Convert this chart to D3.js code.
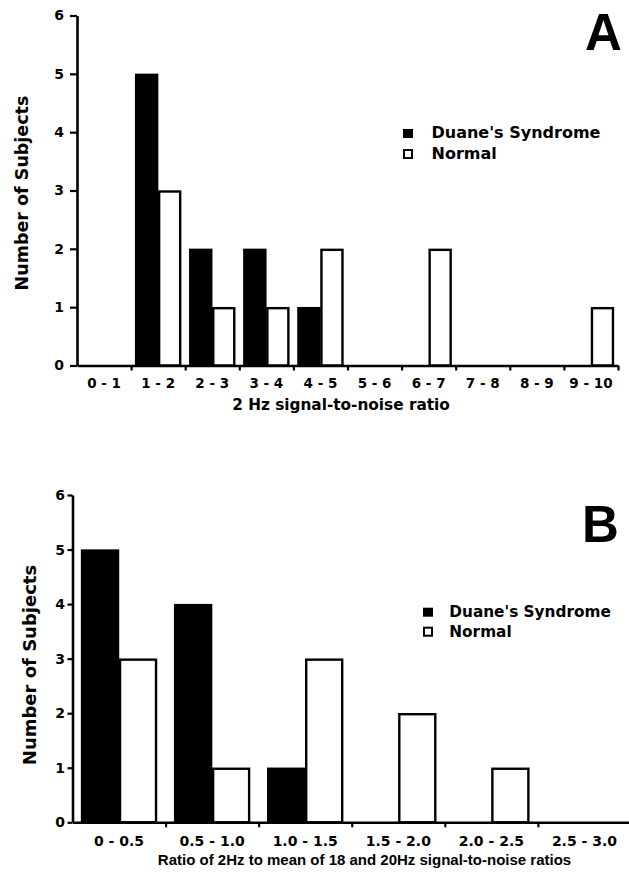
<!DOCTYPE html>
<html><head><meta charset="utf-8">
<script src="https://cdn.jsdelivr.net/npm/d3@7"></script>
<style>body{margin:0;background:#fff;} svg{display:block;}</style>
</head><body>
<svg id="chart" width="629" height="874"></svg>
<script>
// ---- data ----
const categoriesA = ["0 - 1","1 - 2","2 - 3","3 - 4","4 - 5","5 - 6","6 - 7","7 - 8","8 - 9","9 - 10"];
const duaneA  = [0,5,2,2,1,0,0,0,0,0];
const normalA = [0,3,1,1,2,0,2,0,0,1];
const categoriesB = ["0 - 0.5","0.5 - 1.0","1.0 - 1.5","1.5 - 2.0","2.0 - 2.5","2.5 - 3.0"];
const duaneB  = [5,4,1,0,0,0];
const normalB = [3,1,3,2,1,0];
const yTicks = [0,1,2,3,4,5,6];
const seriesNames = ["Duane's Syndrome","Normal"];
const panelLabels = ["A","B"];
const xTitles = ["2 Hz signal-to-noise ratio","Ratio of 2Hz to mean of 18 and 20Hz signal-to-noise ratios"];
const yTitle = "Number of Subjects";

// ---- layout ----
const FONT = "'DejaVu Sans', sans-serif";
const FONT2 = "'Liberation Sans', Arial, sans-serif";
const panels = [
  {cats:categoriesA, duane:duaneA, normal:normalA, label:panelLabels[0], xTitle:xTitles[0],
   x0:77, x1:618, yTop:15.5, yBot:365.5, subPad:0.175,
   yTickSize:7, yTickPad:6, yTickFont:14,
   xTickLabelY:388, xTickFont:13.5,
   xTitlePos:{x:341,y:410,size:15.3,font:FONT},
   yTitlePos:{x:27.5,y:193,size:17.5},
   legend:{sqX:403, textX:431.5, y1:138, y2:159, size:16},
   letterPos:{x:585,y:50,size:51}},
  {cats:categoriesB, duane:duaneB, normal:normalB, label:panelLabels[1], xTitle:xTitles[1],
   x0:72.5, x1:631, yTop:495, yBot:822.3, subPad:0.225,
   yTickSize:5, yTickPad:2.5, yTickFont:14,
   xTickLabelY:846, xTickFont:14,
   xTitlePos:{x:364.5,y:865,size:15,font:FONT2},
   yTitlePos:{x:35.5,y:665,size:18},
   legend:{sqX:423, textX:449.3, y1:616.7, y2:636.7, size:15.3},
   letterPos:{x:582,y:541.7,size:51}}
];

const svg = d3.select("#chart");

panels.forEach(p => {
  const g = svg.append("g");
  const n = p.cats.length;
  const y = d3.scaleLinear().domain([0,6]).range([p.yBot, p.yTop]);
  const xBand = d3.scaleBand().domain(p.cats).range([p.x0, p.x1]).padding(0);
  const xLin = d3.scaleLinear().domain([0,n]).range([p.x0, p.x1]);
  const xs = d3.scaleBand().domain(["duane","normal"]).range([0, xBand.bandwidth()])
               .paddingInner(0).paddingOuter(p.subPad);

  // bars
  const rows = p.cats.map((c,i) => ({cat:c, duane:p.duane[i], normal:p.normal[i]}));
  ["duane","normal"].forEach(key => {
    g.append("g").selectAll("rect")
      .data(rows.filter(d => d[key] > 0))
      .join("rect")
      .attr("x", d => xBand(d.cat) + xs(key) + 1)
      .attr("width", xs.bandwidth() - 2)
      .attr("y", d => y(d[key]) + 1)
      .attr("height", d => y(0) - y(d[key]) - 1)
      .attr("fill", key === "duane" ? "#000" : "#fff")
      .attr("stroke", "#000")
      .attr("stroke-width", 2.4);
  });

  // y axis
  const yAxis = d3.axisLeft(y).tickValues(yTicks).tickFormat(d3.format("d"))
                  .tickSize(p.yTickSize).tickPadding(p.yTickPad).tickSizeOuter(0);
  const ya = g.append("g").attr("transform", `translate(${p.x0},0)`).call(yAxis);
  ya.select(".domain").attr("stroke-width", 2.6);
  ya.selectAll(".tick line").attr("stroke-width", 2.2);
  ya.selectAll(".tick text").attr("font-family", FONT).attr("font-weight", "bold")
    .attr("font-size", p.yTickFont).attr("fill", "#000");

  // x axis: boundary ticks
  const xAxis = d3.axisBottom(xLin).tickValues(d3.range(1, n+1)).tickFormat("")
                  .tickSize(5).tickSizeOuter(0);
  const xa = g.append("g").attr("transform", `translate(0,${p.yBot})`).call(xAxis);
  xa.select(".domain").attr("stroke-width", 2.6);
  xa.selectAll(".tick line").attr("stroke-width", 2.2);

  // x axis: category labels
  const xLab = d3.axisBottom(xBand).tickSize(0).tickPadding(0);
  const xl = g.append("g").attr("transform", `translate(0,${p.xTickLabelY})`).call(xLab);
  xl.select(".domain").remove();
  xl.selectAll(".tick text").attr("dy", null).attr("y", 0)
    .attr("font-family", FONT).attr("font-weight", "bold")
    .attr("font-size", p.xTickFont).attr("fill", "#000");

  // x title
  g.append("text").attr("x", p.xTitlePos.x).attr("y", p.xTitlePos.y)
    .attr("text-anchor", "middle").attr("font-family", p.xTitlePos.font)
    .attr("font-weight", "bold").attr("font-size", p.xTitlePos.size).text(p.xTitle);

  // y title
  g.append("text").attr("transform", `translate(${p.yTitlePos.x},${p.yTitlePos.y}) rotate(-90)`)
    .attr("text-anchor", "middle").attr("font-family", FONT)
    .attr("font-weight", "bold").attr("font-size", p.yTitlePos.size).text(yTitle);

  // panel letter
  g.append("text").attr("x", p.letterPos.x).attr("y", p.letterPos.y)
    .attr("font-family", FONT2).attr("font-weight", "bold")
    .attr("font-size", p.letterPos.size).text(p.label);

  // legend
  const L = p.legend;
  g.append("rect").attr("x", L.sqX).attr("y", L.y1 - 9).attr("width", 10).attr("height", 9)
    .attr("fill", "#000");
  g.append("rect").attr("x", L.sqX + 1).attr("y", L.y2 - 9).attr("width", 8).attr("height", 8)
    .attr("fill", "#fff").attr("stroke", "#000").attr("stroke-width", 2);
  [L.y1, L.y2].forEach((yy, i) => {
    g.append("text").attr("x", L.textX).attr("y", yy)
      .attr("font-family", FONT).attr("font-weight", "bold")
      .attr("font-size", L.size).text(seriesNames[i]);
  });
});
</script>
</body></html>
